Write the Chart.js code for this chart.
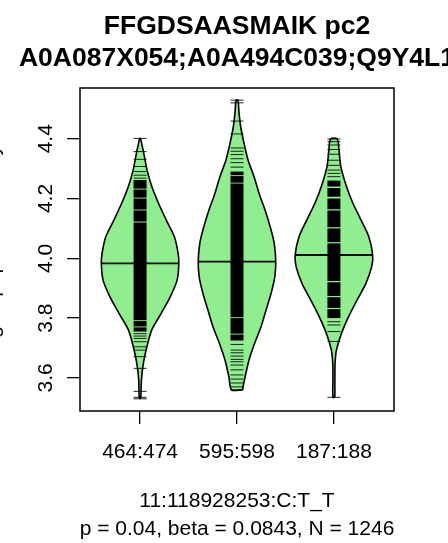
<!DOCTYPE html>
<html>
<head>
<meta charset="utf-8">
<title>FFGDSAASMAIK pc2</title>
<script src="https://cdn.jsdelivr.net/npm/chart.js@4.4.1/dist/chart.umd.min.js"></script>
<style>
  html, body { margin: 0; padding: 0; background: #fff; }
  canvas { display: block; }
</style>
</head>
<body>
<canvas id="chart" width="448" height="543"></canvas>
<script>
// categories and text
let groups = ['464:474', '595:598', '187:188'];
let centers = [1, 2, 3];
let yTicks = [3.6, 3.8, 4.0, 4.2, 4.4];
let mainTitle = ['FFGDSAASMAIK pc2', 'A0A087X054;A0A494C039;Q9Y4L1'];
let subTitle = ['11:118928253:C:T_T', 'p = 0.04, beta = 0.0843, N = 1246'];
let yTitle = 'log10 peptide intensity';

// violin outlines: y level and relative density (0..1)
let violinY1 = [3.532, 3.593, 3.649, 3.704, 3.760, 3.816, 3.872, 3.927, 3.983, 4.017, 4.072, 4.128, 4.184, 4.239, 4.295, 4.351, 4.401];
let violinD1 = [0.02, 0.035, 0.085, 0.175, 0.30, 0.545, 0.78, 0.955, 1.0, 0.98, 0.885, 0.675, 0.475, 0.305, 0.18, 0.095, 0.01];
let violinY2 = [3.560, 3.604, 3.660, 3.716, 3.771, 3.827, 3.883, 3.938, 3.989, 4.050, 4.106, 4.161, 4.217, 4.273, 4.329, 4.385, 4.440, 4.490, 4.529];
let violinD2 = [0.14, 0.21, 0.31, 0.455, 0.62, 0.75, 0.88, 0.975, 1.0, 0.96, 0.855, 0.725, 0.57, 0.44, 0.285, 0.18, 0.095, 0.05, 0.025];
let violinY3 = [3.535, 3.600, 3.649, 3.693, 3.749, 3.805, 3.861, 3.916, 3.972, 4.011, 4.072, 4.128, 4.184, 4.240, 4.306, 4.362, 4.399];
let violinD3 = [0.025, 0.025, 0.03, 0.065, 0.195, 0.38, 0.60, 0.825, 0.975, 1.0, 0.90, 0.70, 0.49, 0.325, 0.18, 0.13, 0.085];
let medians = [3.983, 3.989, 4.011];

// blocks where the data dashes overlap into solid black [low, high]
let bands1 = [[3.755, 3.769], [3.772, 3.790], [3.793, 4.120], [4.123, 4.160], [4.163, 4.200], [4.203, 4.230], [4.233, 4.262]];
let bands2 = [[3.725, 3.745], [3.748, 3.800], [3.803, 4.250], [4.253, 4.275], [4.278, 4.290]];
let bands3 = [[3.800, 3.830], [3.834, 3.870], [3.874, 3.920], [3.924, 4.050], [4.054, 4.100], [4.104, 4.160], [4.164, 4.200], [4.206, 4.235], [4.240, 4.260]];

// single data dashes that stand apart
let dashes1 = [4.401, 4.357, 4.331, 4.307, 4.290, 4.278, 4.268, 3.748, 3.740, 3.732, 3.721, 3.704, 3.693, 3.671, 3.632, 3.555, 3.535, 3.530];
let dashes2 = [4.529, 4.520, 4.459, 4.416, 4.369, 4.358, 4.347, 4.333, 4.320, 4.305, 3.712, 3.693, 3.684, 3.673, 3.662, 3.654, 3.643, 3.627, 3.610, 3.596, 3.583, 3.570, 3.560];
let dashes3 = [4.399, 4.390, 4.379, 4.364, 4.348, 4.328, 4.311, 4.295, 4.284, 4.273, 3.788, 3.777, 3.755, 3.722, 3.535];

let violinYs = [violinY1, violinY2, violinY3];
let violinDs = [violinD1, violinD2, violinD3];
let bands = [bands1, bands2, bands3];
let dashes = [dashes1, dashes2, dashes3];

let violinHalf = 0.4;
let green = '#90ee90';
let fontName = '"Liberation Sans", Arial, Helvetica, sans-serif';

let outline = (ys, ds, c) => {
    let right = ys.map((y, i) => ({ x: c + violinHalf * ds[i], y: y }));
    let left = ys.map((y, i) => ({ x: c - violinHalf * ds[i], y: y })).reverse();
    return right.concat(left, [right[0]]);
};

let datasets = [];

centers.forEach((c, g) => {
    datasets.push({
        type: 'line',
        data: outline(violinYs[g], violinDs[g], c),
        showLine: true,
        fill: 'shape',
        backgroundColor: green,
        borderColor: '#000',
        borderWidth: 1.6,
        tension: 0.3,
        pointRadius: 0,
        order: 3
    });

    bands[g].forEach(b => {
        datasets.push({
            type: 'line',
            data: [{ x: c, y: b[0] }, { x: c, y: b[1] }],
            showLine: true,
            fill: false,
            borderColor: '#000',
            borderWidth: 13,
            borderCapStyle: 'butt',
            pointRadius: 0,
            order: 2
        });
    });

    datasets.push({
        type: 'scatter',
        data: dashes[g].map(v => ({ x: c, y: v })),
        pointStyle: 'line',
        pointRadius: 6.5,
        pointBorderWidth: 1,
        borderColor: 'rgba(0,0,0,0.85)',
        pointBorderColor: 'rgba(0,0,0,0.85)',
        order: 2
    });

    // median line runs across the violin at its width there
    let mi = violinYs[g].indexOf(medians[g]);
    let mw = violinHalf * violinDs[g][mi];
    datasets.push({
        type: 'line',
        data: [{ x: c - mw, y: medians[g] }, { x: c + mw, y: medians[g] }],
        showLine: true,
        fill: false,
        borderColor: '#000',
        borderWidth: 1.8,
        pointRadius: 0,
        order: 0
    });
});

// text, rotated labels and the plot box
let rText = {
    id: 'rText',
    afterDraw: (chart) => {
        let c = chart.ctx;
        let area = chart.chartArea;
        let xs = chart.scales.x;
        let ys = chart.scales.y;
        let mid = (area.left + area.right) / 2;
        c.save();
        c.strokeStyle = '#000';
        c.lineWidth = 1.5;
        c.strokeRect(area.left, area.top, area.right - area.left, area.bottom - area.top);

        c.fillStyle = '#000';
        c.textAlign = 'center';
        c.textBaseline = 'alphabetic';
        c.font = 'bold 26.5px ' + fontName;
        mainTitle.forEach((t, i) => c.fillText(t, mid, 34 + i * 32));

        c.font = '21px ' + fontName;
        groups.forEach((g, i) => c.fillText(g, xs.getPixelForValue(centers[i]), 458));
        subTitle.forEach((t, i) => c.fillText(t, mid, 507 + i * 28));

        yTicks.forEach(v => {
            c.save();
            c.translate(52, ys.getPixelForValue(v));
            c.rotate(-Math.PI / 2);
            c.fillText(v.toFixed(1), 0, 0);
            c.restore();
        });

        c.save();
        c.translate(-1, (area.top + area.bottom) / 2);
        c.rotate(-Math.PI / 2);
        c.fillText(yTitle, 0, 0);
        c.restore();
        c.restore();
    }
};

let ctx = document.querySelector('#chart').getContext('2d');
const chart = new Chart(ctx, {
    type: 'scatter',
    data: { datasets: datasets },
    options: {
        responsive: false,
        animation: false,
        devicePixelRatio: 1,
        layout: { padding: { top: 88, right: 54, left: 0, bottom: 0 } },
        plugins: {
            legend: { display: false },
            tooltip: { enabled: false },
            title: { display: false }
        },
        scales: {
            x: {
                type: 'linear',
                min: 0.38,
                max: 3.62,
                afterBuildTicks: (scale) => { scale.ticks = centers.map(v => ({ value: v })); },
                afterFit: (scale) => { scale.height = 132; },
                ticks: { display: false },
                border: { display: false },
                grid: { drawOnChartArea: false, drawTicks: true, tickLength: 13, color: '#000', lineWidth: 1.3 }
            },
            y: {
                type: 'linear',
                min: 3.4893,
                max: 4.5696,
                afterBuildTicks: (scale) => { scale.ticks = yTicks.map(v => ({ value: v })); },
                afterFit: (scale) => { scale.width = 80; },
                ticks: { display: false },
                border: { display: false },
                grid: { drawOnChartArea: false, drawTicks: true, tickLength: 13, color: '#000', lineWidth: 1.3 }
            }
        }
    },
    plugins: [rText]
});
</script>
</body>
</html>
